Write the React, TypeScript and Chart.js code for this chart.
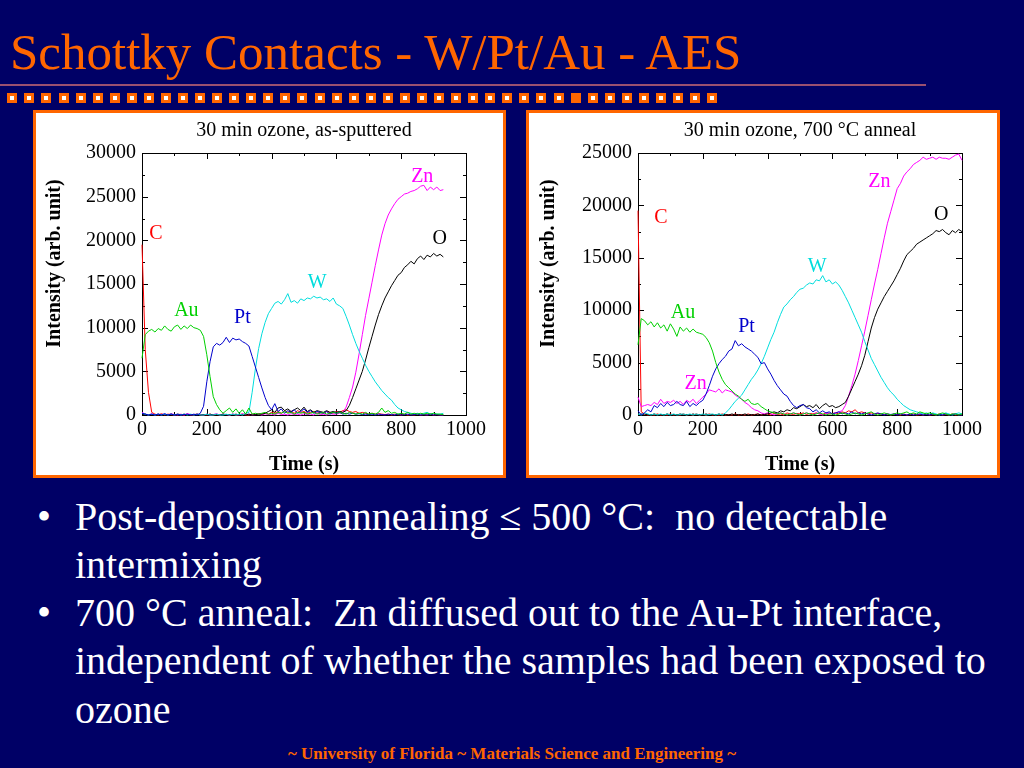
import React, { useEffect, useRef } from "react";
import { Chart, registerables } from "chart.js";

Chart.register(...registerables);

const SERIF = '"Liberation Serif", "Times New Roman", Times, serif';
const ORANGE = "#FF6600";
const NAVY = "#000066";

const SLIDE_TITLE = "Schottky Contacts - W/Pt/Au - AES";
const FOOTER = "~ University of Florida ~ Materials Science and Engineering ~";
const BULLETS = [
  ["Post-deposition annealing \u2264 500 \u00B0C:  no detectable", "intermixing"],
  [
    "700 \u00B0C anneal:  Zn diffused out to the Au-Pt interface,",
    "independent of whether the samples had been exposed to",
    "ozone",
  ],
];

const LEFT_TITLE = "30 min ozone, as-sputtered";
const RIGHT_TITLE = "30 min ozone, 700 \u00B0C anneal";
const X_TITLE = "Time (s)";
const Y_TITLE = "Intensity (arb. unit)";

const X_TICKS = [0, 200, 400, 600, 800, 1000];
const Y_TICKS_LEFT = [0, 5000, 10000, 15000, 20000, 25000, 30000];
const Y_TICKS_RIGHT = [0, 5000, 10000, 15000, 20000, 25000];

const TIME = [
  0, 10, 20, 30, 40, 50, 60, 70, 80, 90,
  100, 110, 120, 130, 140, 150, 160, 170, 180, 190,
  200, 210, 220, 230, 240, 250, 260, 270, 280, 290,
  300, 310, 320, 330, 340, 350, 360, 370, 380, 390,
  400, 410, 420, 430, 440, 450, 460, 470, 480, 490,
  500, 510, 520, 530, 540, 550, 560, 570, 580, 590,
  600, 610, 620, 630, 640, 650, 660, 670, 680, 690,
  700, 710, 720, 730, 740, 750, 760, 770, 780, 790,
  800, 810, 820, 830, 840, 850, 860, 870, 880, 890,
  900, 910, 920, 930, 940, 950, 960, 970, 980, 990,
  1000,
];

// ---- Left panel: as-sputtered (0 .. 930 s)
const LEFT_C = [
  19500, 7500, 2600, 300, 100, 0, 150, 0, 100, 50,
  0, 100, 50, 0, 100, 0, 50, 100, 0, 50,
  0, 100, 0, 50, 0, 100, 50, 0, 100, 0,
  50, 100, 0, 0, 100, 50, 150, 100, 200, 100,
  300, 200, 400, 200, 500, 300, 400, 200, 500, 300,
  400, 200, 300, 400, 200, 300, 200, 400, 300, 200,
  400, 300, 500, 600, 400, 300, 400, 200, 300, 200,
  100, 200, 100, 150, 100, 50, 100, 0, 100, 50,
  0, 100, 0, 50, 0, 100, 0, 50, 0, 100,
  0, 50, 0, 0,
];
const LEFT_AU = [
  6500, 9200, 9600, 9800, 9500, 9900, 9700, 10200, 9800, 9600,
  10100, 10300, 9800, 10200, 9900, 10300, 10000, 9900, 9700, 9000,
  6900, 4400, 2100, 1200, 600, 200, 500, 800, 300, 700,
  200, 600, 100, 800, 100, 200, 100, 200, 300, 100,
  200, 100, 300, 200, 400, 200, 300, 100, 300, 200,
  300, 100, 200, 300, 100, 200, 300, 100, 200, 300,
  200, 300, 200, 100, 300, 200, 100, 200, 100, 300,
  100, 200, 100, 300, 800, 300, 500, 200, 300, 100,
  200, 100, 300, 100, 200, 100, 200, 100, 200, 100,
  200, 100, 100, 50,
];
const LEFT_PT = [
  200, 100, 0, 100, 0, 100, 0, 150, 0, 100,
  0, 100, 0, 50, 100, 0, 100, 0, 200, 1000,
  3800, 6100, 7800, 8200, 8000, 8300, 8900, 8300, 8800, 8600,
  8700, 8400, 8200, 7900, 6700, 5500, 4300, 3100, 2000, 1100,
  600, 1300, 400, 700, 200, 500, 300, 600, 200, 400,
  700, 300, 500, 200, 400, 300, 200, 400, 100, 300,
  200, 300, 100, 200, 100, 200, 100, 150, 50, 100,
  50, 100, 0, 100, 50, 0, 100, 50, 0, 100,
  0, 50, 100, 0, 50, 100, 0, 50, 0, 100,
  0, 50, 0, 0,
];
const LEFT_W = [
  200, 100, 0, 100, 0, 100, 0, 100, 0, 100,
  0, 100, 0, 100, 0, 100, 0, 100, 0, 0,
  100, 0, 0, 100, 0, 0, 100, 0, 100, 0,
  100, 0, 200, 300, 2600, 5300, 7600, 9300, 10600, 11600,
  12200, 12800, 13000, 12700, 13200, 13900, 12900, 13100, 12800, 13300,
  13100, 13400, 13300, 13600, 13400, 13500, 13200, 13300, 13000, 13400,
  12700, 12500, 12200, 11300, 10300, 9200, 8200, 7300, 6500, 5700,
  5000, 4400, 3800, 3300, 2800, 2400, 2000, 1700, 1200, 800,
  600, 400, 300, 200, 100, 200, 100, 200, 300, 100,
  200, 100, 100, 200,
];
const LEFT_ZN = [
  300, 100, 0, 150, 0, 100, 50, 100, 0, 150,
  50, 0, 100, 0, 150, 50, 0, 100, 50, 0,
  100, 0, 50, 150, 0, 100, 50, 0, 100, 50,
  0, 150, 50, 100, 0, 50, 100, 0, 150, 50,
  100, 0, 200, 50, 100, 0, 150, 50, 100, 0,
  150, 50, 100, 0, 200, 50, 100, 0, 150, 100,
  100, 200, 300, 900, 2000, 3200, 4900, 7000, 9200, 11400,
  13300, 15200, 17100, 18900, 20600, 21900, 22900, 23600, 24200, 24700,
  25000, 25300, 25400, 25600, 25700, 25900, 26200, 26300, 25700, 26100,
  25800, 26100, 25700, 25800,
];
const LEFT_O = [
  0, 100, 0, 50, 0, 100, 0, 50, 0, 100,
  0, 50, 0, 100, 0, 50, 0, 100, 0, 50,
  0, 100, 0, 50, 0, 100, 0, 50, 0, 100,
  0, 50, 0, 100, 0, 50, 100, 100, 200, 400,
  600, 300, 800, 900, 500, 700, 400, 600, 800, 500,
  900, 400, 600, 300, 500, 400, 300, 500, 300, 400,
  300, 400, 300, 500, 1100, 2000, 3000, 4000, 5000, 6300,
  7700, 9000, 10300, 11500, 12500, 13400, 14100, 14800, 15400, 16000,
  16300, 16900, 17200, 17600, 17300, 17900, 18200, 17800, 18300, 18100,
  18500, 18200, 18400, 18100,
];

// ---- Right panel: 700 C anneal (0 .. 1000 s)
const RIGHT_C = [
  19500, 300, 100, 0, 50, 0, 100, 0, 50, 0,
  100, 0, 50, 0, 100, 0, 50, 0, 100, 0,
  50, 0, 100, 0, 50, 0, 100, 0, 50, 0,
  100, 0, 50, 0, 100, 0, 50, 100, 0, 50,
  100, 0, 150, 50, 100, 0, 200, 100, 50, 150,
  100, 200, 50, 150, 100, 200, 100, 50, 200, 100,
  150, 200, 100, 300, 200, 400, 300, 500, 200, 300,
  200, 100, 200, 100, 150, 100, 50, 100, 0, 100,
  50, 0, 100, 0, 50, 100, 0, 50, 0, 100,
  0, 50, 0, 100, 0, 50, 0, 100, 0, 50,
  0,
];
const RIGHT_AU = [
  6700, 9200, 9000, 8600, 8900, 8400, 8800, 8300, 8600, 8000,
  8700, 8200, 7500, 8400, 8000, 8300, 7900, 8200, 7900, 7800,
  7700, 7400, 6900, 6100, 5000, 4100, 3400, 2900, 2600, 2300,
  2000, 1800, 1500, 1300, 1500, 1100, 1000, 1100, 800, 600,
  400, 300, 200, 100, 200, 100, 0, 100, 200, 100,
  0, 100, 200, 100, 0, 100, 200, 100, 0, 100,
  100, 0, 100, 200, 100, 0, 100, 200, 100, 0,
  100, 200, 300, 100, 0, 100, 200, 100, 0, 100,
  200, 100, 200, 300, 100, 200, 100, 300, 200, 100,
  200, 100, 0, 100, 200, 100, 0, 100, 100, 0,
  100,
];
const RIGHT_PT = [
  400, 0, 200, 500, 300, 900, 700, 1100, 800, 1200,
  900, 1000, 1300, 1000, 900, 1300, 800, 1100, 900, 1200,
  1400, 2000, 2800, 3700, 4400, 4900, 5300, 5600, 6100, 6300,
  7100, 6600, 6800, 6500, 6300, 6100, 5800, 5500, 4900, 5000,
  4400, 3900, 3300, 2800, 2400, 2000, 1800, 1300, 900, 700,
  900, 1000, 700, 600, 300, 500, 200, 400, 200, 300,
  100, 200, 300, 100, 200, 100, 300, 100, 200, 100,
  200, 100, 0, 100, 200, 100, 0, 100, 50, 100,
  0, 100, 50, 0, 100, 0, 50, 100, 0, 50,
  0, 100, 0, 50, 0, 100, 0, 50, 100, 0,
  0,
];
const RIGHT_W = [
  100, 0, 200, 100, 0, 100, 0, 100, 0, 100,
  0, 100, 0, 50, 100, 0, 100, 0, 100, 0,
  100, 0, 50, 100, 0, 100, 0, 200, 500, 900,
  1300, 1600, 1900, 2400, 2900, 3400, 3800, 4300, 4900, 5600,
  6400, 7200, 7900, 8800, 9600, 10300, 10600, 11000, 11300, 11700,
  12000, 12100, 12400, 12600, 12500, 12900, 12800, 13300, 12700, 12900,
  12500, 12700, 12400, 11900, 11300, 10700, 10000, 9300, 8600, 7900,
  7000, 6200, 5400, 4800, 4200, 3600, 3100, 2600, 2200, 1900,
  1500, 1200, 900, 700, 500, 400, 300, 200, 100, 200,
  100, 200, 100, 0, 100, 200, 100, 0, 100, 200,
  100,
];
const RIGHT_ZN = [
  1700, 800, 900, 1000, 900, 1200, 1000, 1500, 1100, 1300,
  1200, 1400, 1100, 1300, 1000, 1400, 1200, 1500, 1100, 1400,
  1700, 2000, 2400, 2300, 2200, 2500, 2100, 2400, 2300, 2200,
  1900, 1700, 1500, 1200, 1000, 700, 500, 400, 200, 100,
  200, 100, 0, 100, 200, 100, 0, 100, 200, 100,
  0, 100, 200, 100, 0, 200, 100, 0, 100, 200,
  100, 200, 300, 400, 900, 1800, 2800, 3900, 5200, 6600,
  8000, 9500, 11000, 12500, 13900, 15400, 16900, 18300, 19400, 20500,
  21600, 22100, 22800, 23200, 23500, 23900, 24100, 24300, 24600, 24400,
  24500, 24600, 24400, 24600, 24500, 24500, 24400, 24600, 24800, 24900,
  24300,
];
const RIGHT_O = [
  0, 100, 0, 50, 0, 100, 0, 50, 0, 100,
  0, 50, 0, 100, 0, 50, 0, 100, 0, 50,
  0, 100, 0, 50, 0, 100, 0, 50, 0, 100,
  0, 50, 0, 100, 0, 50, 0, 100, 0, 50,
  100, 200, 300, 200, 400, 300, 500, 400, 700, 600,
  800, 1000, 800, 900, 700, 1000, 600, 900, 1100, 800,
  900, 700, 800, 1000, 1200, 1800, 2500, 3200, 3900, 4700,
  5700, 7000, 8300, 9300, 10100, 10700, 11300, 11800, 12300, 12800,
  13400, 14000, 14700, 15300, 15600, 15900, 16300, 16500, 16700, 16900,
  17100, 17300, 17600, 17500, 17700, 17400, 17200, 17600, 17400, 17700,
  17500,
];

const COLORS: Record<string, string> = {
  C: "#FF0000",
  Au: "#00D000",
  Pt: "#0000CC",
  W: "#00DDDD",
  Zn: "#FF00FF",
  O: "#000000",
};

// curve annotations: [text, time, intensity]
const LEFT_NOTES: [string, number, number][] = [
  ["C", 43, 20730],
  ["Au", 137, 11930],
  ["Pt", 310, 11080],
  ["W", 541, 15170],
  ["Zn", 865, 27250],
  ["O", 919, 20130],
];
const RIGHT_NOTES: [string, number, number][] = [
  ["C", 71, 18830],
  ["Au", 139, 9790],
  ["Pt", 335, 8430],
  ["W", 553, 14150],
  ["Zn", 745, 22240],
  ["O", 936, 19070],
  ["Zn", 178, 2960],
];

type PanelCfg = {
  title: string;
  yMax: number;
  yTicks: number[];
  series: [string, number[]][];
  notes: [string, number, number][];
  plotLeft: number;
  yTitleX: number;
};

const LEFT_CFG: PanelCfg = {
  title: LEFT_TITLE,
  yMax: 30000,
  yTicks: Y_TICKS_LEFT,
  series: [
    ["Au", LEFT_AU], ["Pt", LEFT_PT], ["W", LEFT_W], ["O", LEFT_O], ["Zn", LEFT_ZN], ["C", LEFT_C],
  ],
  notes: LEFT_NOTES,
  plotLeft: 106,
  yTitleX: 24,
};
const RIGHT_CFG: PanelCfg = {
  title: RIGHT_TITLE,
  yMax: 25000,
  yTicks: Y_TICKS_RIGHT,
  series: [
    ["Au", RIGHT_AU], ["Pt", RIGHT_PT], ["W", RIGHT_W], ["O", RIGHT_O], ["Zn", RIGHT_ZN], ["C", RIGHT_C],
  ],
  notes: RIGHT_NOTES,
  plotLeft: 109,
  yTitleX: 25,
};

const CANVAS_H = 362;
const PLOT_TOP = 40;
const PLOT_BOTTOM = 302;
const PLOT_W = 324;

function buildChart(canvas: HTMLCanvasElement, cfg: PanelCfg, w: number) {
  const datasets = cfg.series.map(([name, vals]) => ({
    label: name,
    data: vals.map((v, i) => ({ x: TIME[i], y: v })),
    borderColor: COLORS[name],
    backgroundColor: COLORS[name],
    borderWidth: 1,
    pointRadius: 0,
    fill: false,
    tension: 0,
    clip: { left: 2, top: 2, right: 2, bottom: 1 },
  }));

  const decor = {
    id: "aesDecor",
    beforeDatasetsDraw(chart: any) {
      const { ctx, chartArea: a, scales } = chart;
      const xs = scales.x;
      const ys = scales.y;
      ctx.save();
      ctx.strokeStyle = "#000";
      ctx.lineWidth = 1;
      ctx.strokeRect(Math.round(a.left) + 0.5, Math.round(a.top) + 0.5, Math.round(a.right - a.left), Math.round(a.bottom - a.top));
      ctx.beginPath();
      for (let i = 0; i < X_TICKS.length; i++) {
        const v = X_TICKS[i];
        const px = Math.round(xs.getPixelForValue(v)) + 0.5;
        ctx.moveTo(px, a.bottom); ctx.lineTo(px, a.bottom - 6);
        ctx.moveTo(px, a.top); ctx.lineTo(px, a.top + 6);
        if (i < X_TICKS.length - 1) {
          const m = (v + X_TICKS[i + 1]) / 2;
          const pm = Math.round(xs.getPixelForValue(m)) + 0.5;
          ctx.moveTo(pm, a.bottom); ctx.lineTo(pm, a.bottom - 3);
          ctx.moveTo(pm, a.top); ctx.lineTo(pm, a.top + 3);
        }
      }
      for (let i = 0; i < cfg.yTicks.length; i++) {
        const v = cfg.yTicks[i];
        const py = Math.round(ys.getPixelForValue(v)) + 0.5;
        ctx.moveTo(a.left, py); ctx.lineTo(a.left + 6, py);
        ctx.moveTo(a.right, py); ctx.lineTo(a.right - 6, py);
        if (i < cfg.yTicks.length - 1) {
          const m = (v + cfg.yTicks[i + 1]) / 2;
          const pm = Math.round(ys.getPixelForValue(m)) + 0.5;
          ctx.moveTo(a.left, pm); ctx.lineTo(a.left + 3, pm);
          ctx.moveTo(a.right, pm); ctx.lineTo(a.right - 3, pm);
        }
      }
      ctx.stroke();
      ctx.restore();
    },
    afterDraw(chart: any) {
      const { ctx, chartArea: a, scales } = chart;
      const xs = scales.x;
      const ys = scales.y;
      ctx.save();
      const cx = (a.left + a.right) / 2;
      ctx.fillStyle = "#000";
      ctx.textAlign = "center";
      ctx.textBaseline = "alphabetic";
      ctx.font = `20px ${SERIF}`;
      ctx.fillText(cfg.title, cx, 23);
      ctx.font = `bold 20px ${SERIF}`;
      ctx.fillText(X_TITLE, cx, 357);
      ctx.save();
      ctx.translate(cfg.yTitleX, 150.5);
      ctx.rotate(-Math.PI / 2);
      ctx.fillText(Y_TITLE, 0, 0);
      ctx.restore();

      ctx.font = `20px ${SERIF}`;
      ctx.textBaseline = "middle";
      for (const [t, nx, ny] of cfg.notes) {
        ctx.fillStyle = COLORS[t];
        ctx.fillText(t, xs.getPixelForValue(nx), ys.getPixelForValue(ny));
      }
      ctx.restore();
    },
  };

  return new Chart(canvas, {
    type: "line",
    data: { datasets },
    options: {
      animation: false,
      responsive: false,
      maintainAspectRatio: false,
      devicePixelRatio: 1,
      events: [],
      layout: { padding: { left: 0, top: PLOT_TOP, right: w - cfg.plotLeft - PLOT_W, bottom: 0 } },
      plugins: { legend: { display: false }, tooltip: { enabled: false }, title: { display: false } },
      scales: {
        x: {
          type: "linear",
          min: 0,
          max: 1000,
          grid: { display: false, drawTicks: false },
          border: { display: false },
          ticks: {
            font: { family: SERIF, size: 20 },
            color: "#000",
            padding: 3,
            maxRotation: 0,
            autoSkip: false,
            callback: (v: any) => String(v),
          },
          afterBuildTicks: (s: any) => { s.ticks = X_TICKS.map((v) => ({ value: v })); },
          afterFit: (s: any) => { s.height = CANVAS_H - PLOT_BOTTOM; },
        },
        y: {
          type: "linear",
          min: 0,
          max: cfg.yMax,
          grid: { display: false, drawTicks: false },
          border: { display: false },
          ticks: {
            font: { family: SERIF, size: 20 },
            color: "#000",
            padding: 6,
            autoSkip: false,
            callback: (v: any) => String(v),
          },
          afterBuildTicks: (s: any) => { s.ticks = cfg.yTicks.map((v) => ({ value: v })); },
          afterFit: (s: any) => { s.width = cfg.plotLeft; },
        },
      },
    } as any,
    plugins: [decor],
  });
}

function Panel({ left, width, cfg }: { left: number; width: number; cfg: PanelCfg }) {
  const ref = useRef<HTMLCanvasElement>(null);
  const w = width - 6;
  useEffect(() => {
    const chart = buildChart(ref.current as HTMLCanvasElement, cfg, w);
    return () => chart.destroy();
  }, []);
  return (
    <div
      style={{
        position: "absolute",
        left,
        top: 110,
        width,
        height: 368,
        boxSizing: "border-box",
        border: `3px solid ${ORANGE}`,
        background: "#fff",
      }}
    >
      <canvas ref={ref} width={w} height={CANVAS_H} style={{ display: "block", width: w, height: CANVAS_H }} />
    </div>
  );
}

export default function App() {
  const squares = [];
  for (let i = 0; i < 42; i++) {
    const x = Math.round(7.3 + i * 17.07);
    squares.push(
      <div key={i} style={{ position: "absolute", left: x, top: 93, width: 10, height: 10, background: ORANGE }}>
        {i !== 33 && (
          <div style={{ position: "absolute", left: 3, top: 3, width: 4, height: 4, background: "#fff" }} />
        )}
      </div>
    );
  }
  const lines: { text: string; bullet: boolean }[] = [];
  BULLETS.forEach((b) => b.forEach((t, j) => lines.push({ text: t, bullet: j === 0 })));

  return (
    <div
      style={{
        position: "fixed",
        left: 0,
        top: 0,
        width: 1024,
        height: 768,
        background: NAVY,
        overflow: "hidden",
        fontFamily: SERIF,
      }}
    >
      <div
        style={{
          position: "absolute",
          left: 10,
          top: 27,
          fontSize: 51,
          lineHeight: "51px",
          color: ORANGE,
          whiteSpace: "nowrap",
        }}
      >
        {SLIDE_TITLE}
      </div>
      <div style={{ position: "absolute", left: 0, top: 84, width: 926, height: 2, background: "#9A5070" }} />
      {squares}
      <Panel left={33} width={473} cfg={LEFT_CFG} />
      <Panel left={526} width={474} cfg={RIGHT_CFG} />
      {lines.map((l, i) => {
        const top = Math.round(530 + i * 48.3 - 37.5);
        return (
          <React.Fragment key={i}>
            {l.bullet && (
              <div style={{ position: "absolute", left: 37, top, fontSize: 40, lineHeight: "48px", color: "#fff" }}>
                {"\u2022"}
              </div>
            )}
            <div
              style={{
                position: "absolute",
                left: 75,
                top,
                fontSize: 40,
                lineHeight: "48px",
                color: "#fff",
                whiteSpace: "pre",
              }}
            >
              {l.text}
            </div>
          </React.Fragment>
        );
      })}
      <div
        style={{
          position: "absolute",
          left: 0,
          top: 745,
          width: 1024,
          textAlign: "center",
          fontSize: 17,
          lineHeight: "17px",
          fontWeight: "bold",
          color: ORANGE,
          whiteSpace: "nowrap",
        }}
      >
        {FOOTER}
      </div>
    </div>
  );
}
